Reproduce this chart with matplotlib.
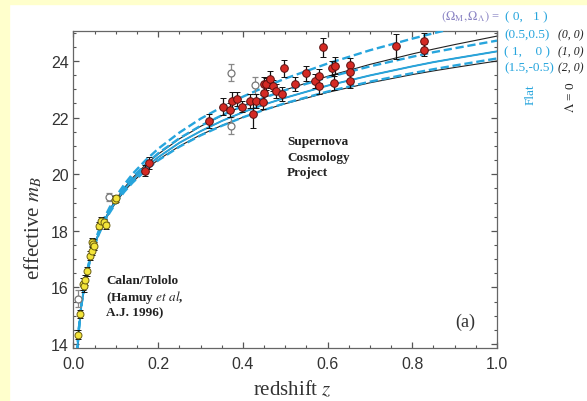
import numpy as np
import matplotlib
matplotlib.use("Agg")
import matplotlib.pyplot as plt
from matplotlib.patches import Rectangle

plt.rcParams['mathtext.fontset'] = 'stix'
plt.rcParams['font.family'] = ['Liberation Sans', 'DejaVu Sans']

# ---------------- model curves (effective m_B vs redshift), read/tabulated ----------------
z_grid = [0.0085, 0.01, 0.0125, 0.015, 0.0175, 0.02, 0.025, 0.03, 0.04, 0.05, 0.06, 0.07,
          0.085, 0.1, 0.12, 0.14, 0.17, 0.2, 0.25, 0.3, 0.35, 0.4, 0.45, 0.5, 0.6, 0.7,
          0.8, 0.85, 0.9, 1.0]
m_flat_0_1 = [13.67, 14.02, 14.51, 14.91, 15.25, 15.55, 16.04, 16.45, 17.10, 17.60, 18.02, 18.37,
              18.82, 19.21, 19.64, 20.02, 20.49, 20.90, 21.47, 21.96, 22.37, 22.74, 23.07, 23.38,
              23.91, 24.38, 24.79, 24.98, 25.16, 25.51]
m_flat_05_05 = [13.66, 14.01, 14.50, 14.90, 15.24, 15.53, 16.02, 16.43, 17.06, 17.56, 17.97, 18.32,
                18.75, 19.12, 19.54, 19.90, 20.35, 20.74, 21.27, 21.71, 22.08, 22.41, 22.70, 22.97,
                23.42, 23.81, 24.15, 24.31, 24.45, 24.72]
m_1_0 = [13.65, 14.01, 14.49, 14.89, 15.22, 15.52, 16.00, 16.40, 17.03, 17.52, 17.92, 18.26,
         18.69, 19.05, 19.46, 19.80, 20.24, 20.60, 21.11, 21.52, 21.88, 22.19, 22.46, 22.70,
         23.13, 23.49, 23.81, 23.96, 24.09, 24.34]
m_flat_15_m05 = [13.64, 14.00, 14.48, 14.88, 15.21, 15.50, 15.98, 16.38, 17.00, 17.48, 17.88, 18.21,
                 18.63, 18.98, 19.38, 19.71, 20.13, 20.49, 20.97, 21.37, 21.71, 22.01, 22.27, 22.51,
                 22.92, 23.27, 23.57, 23.71, 23.84, 24.09]
m_0_0 = [13.66, 14.01, 14.50, 14.90, 15.23, 15.53, 16.02, 16.42, 17.05, 17.55, 17.95, 18.30,
         18.74, 19.11, 19.52, 19.88, 20.33, 20.71, 21.25, 21.69, 22.07, 22.41, 22.71, 22.98,
         23.46, 23.88, 24.25, 24.42, 24.58, 24.88]
m_2_0 = [13.65, 14.00, 14.48, 14.88, 15.22, 15.51, 15.99, 16.39, 17.01, 17.49, 17.89, 18.23,
         18.65, 19.00, 19.40, 19.73, 20.15, 20.51, 20.99, 21.39, 21.72, 22.01, 22.27, 22.49,
         22.89, 23.23, 23.52, 23.65, 23.77, 24.00]

# ---------------- Calan/Tololo (yellow) ----------------
ct_z = [0.0118, 0.0165, 0.022, 0.024, 0.026, 0.033, 0.040, 0.043, 0.043, 0.046, 0.048,
        0.060, 0.065, 0.071, 0.076, 0.097, 0.100]
ct_m = [14.33, 15.06, 16.12, 16.04, 16.27, 16.57, 17.12, 17.28, 17.60, 17.55, 17.46,
        18.18, 18.36, 18.30, 18.20, 19.10, 19.15]
ct_e = [0.15, 0.15, 0.20, 0.20, 0.18, 0.15, 0.15, 0.15, 0.15, 0.15, 0.15,
        0.12, 0.12, 0.12, 0.12, 0.12, 0.12]

# ---------------- Supernova Cosmology Project (red) ----------------
scp_z = [0.170, 0.178, 0.319, 0.352, 0.370, 0.375, 0.386, 0.399, 0.416, 0.423, 0.430, 0.447,
         0.449, 0.449, 0.455, 0.463, 0.471, 0.479, 0.493, 0.496, 0.524, 0.548, 0.571, 0.579,
         0.579, 0.589, 0.610, 0.618, 0.615, 0.654, 0.654, 0.653, 0.762, 0.827, 0.827]
scp_m = [20.12, 20.40, 21.87, 22.39, 22.27, 22.59, 22.66, 22.39, 22.58, 22.13, 22.59, 22.54,
         22.86, 23.19, 23.19, 23.36, 23.13, 22.95, 22.83, 23.75, 23.19, 23.56, 23.28, 23.48,
         23.10, 24.48, 23.74, 23.83, 23.22, 23.86, 23.60, 23.30, 24.52, 24.70, 24.39]
scp_e = [0.20, 0.20, 0.25, 0.30, 0.25, 0.30, 0.25, 0.20, 0.25, 0.50, 0.25, 0.25,
         0.30, 0.25, 0.20, 0.30, 0.20, 0.25, 0.25, 0.30, 0.25, 0.25, 0.25, 0.25,
         0.25, 0.35, 0.25, 0.30, 0.25, 0.25, 0.25, 0.25, 0.45, 0.30, 0.20]

# ---------------- excluded points (open circles) ----------------
open_z = [0.0118, 0.085, 0.371, 0.371, 0.429]
open_m = [15.60, 19.20, 23.58, 21.71, 23.15]
open_e = [0.30, 0.15, 0.30, 0.30, 0.30]

x_ticks = [0.0, 0.2, 0.4, 0.6, 0.8, 1.0]
x_ticklabels = ['0.0', '0.2', '0.4', '0.6', '0.8', '1.0']
y_ticks = [14, 16, 18, 20, 22, 24]

CYAN = '#27a5dd'
W, H = 587, 402
fig = plt.figure(figsize=(W / 100, H / 100), dpi=100)
fig.patch.set_facecolor('white')
YEL = '#ffffcc'
fig.add_artist(Rectangle((0, 0), 9 / W, 1, transform=fig.transFigure, color=YEL, zorder=-10))
fig.add_artist(Rectangle((0, 1 - 5 / H), 1, 5 / H, transform=fig.transFigure, color=YEL, zorder=-10))

ax = fig.add_axes([73.5 / W, 1 - 349 / H, (497 - 73.5) / W, (349 - 32) / H])
ax.set_xlim(0, 1.0)
ax.set_ylim(13.86, 25.06)

# curves: black (Lambda = 0) underneath, cyan (flat) on top
ax.plot(z_grid, m_0_0, color='#222222', lw=0.8, zorder=2)
ax.plot(z_grid, m_1_0, color='#222222', lw=0.8, zorder=2)
ax.plot(z_grid, m_2_0, color='#222222', lw=0.8, zorder=2)
ax.plot(z_grid, m_1_0, color=CYAN, lw=1.4, zorder=3)
ax.plot(z_grid, m_flat_0_1, color=CYAN, lw=1.7, ls=(0, (3.5, 1.6)), zorder=3)
ax.plot(z_grid, m_flat_05_05, color=CYAN, lw=1.7, ls=(0, (3.5, 1.6)), zorder=3)
ax.plot(z_grid, m_flat_15_m05, color=CYAN, lw=1.7, ls=(0, (3.5, 1.6)), zorder=3)

# data
ax.errorbar(open_z, open_m, yerr=open_e, fmt='o', ms=5, mfc='white', mec='#777777',
            mew=0.9, ecolor='#888888', elinewidth=0.9, capsize=2.2, capthick=0.9, zorder=4)
ax.errorbar(ct_z, ct_m, yerr=ct_e, fmt='o', ms=5, mfc='#f3e43a', mec='#6b5e10',
            mew=0.7, ecolor='#111111', elinewidth=0.9, capsize=2.0, capthick=0.9, zorder=5)
ax.errorbar(scp_z, scp_m, yerr=scp_e, fmt='o', ms=5.5, mfc='#d42a24', mec='#5a1010',
            mew=0.7, ecolor='#111111', elinewidth=0.9, capsize=2.2, capthick=0.9, zorder=5)

# ticks / spines
ax.set_xticks(x_ticks)
ax.set_xticklabels(x_ticklabels)
ax.set_yticks(y_ticks)
ax.set_xticks(np.arange(0, 1.001, 0.05), minor=True)
ax.set_yticks(np.arange(14, 25.01, 0.5), minor=True)
ax.tick_params(which='both', direction='in', top=True, right=True, colors='#555555',
               labelcolor='#333333', labelsize=11.5)
ax.tick_params(which='major', length=4.5, width=0.9)
ax.tick_params(which='minor', length=2.5, width=0.8)
ax.tick_params(axis='x', pad=6)
for s in ax.spines.values():
    s.set_color('#666666')
    s.set_linewidth(0.9)

SERIF = ['Liberation Serif', 'DejaVu Serif']

def ftext(x, y, s, **kw):
    fig.text(x / W, 1 - y / H, s, **kw)

ftext(33, 228, r'effective $m_B$', family=SERIF, fontsize=15, rotation=90,
      ha='center', va='center', color='#333333')
ftext(292, 390, r'redshift $z$', family=SERIF, fontsize=15, ha='center', va='center',
      color='#333333')

ftext(106, 281, 'Calan/Tololo', family=SERIF, fontsize=9.5, weight='bold', va='center', color='#222222')
ftext(106, 297, r'(Hamuy $\mathbf{\mathit{et\ al}}$,', family=SERIF, fontsize=9.5, weight='bold',
      va='center', color='#222222')
ftext(106, 313, 'A.J. 1996)', family=SERIF, fontsize=9.5, weight='bold', va='center', color='#222222')

ftext(287, 142, 'Supernova', family=SERIF, fontsize=9.5, weight='bold', va='center', color='#222222')
ftext(287, 158, 'Cosmology', family=SERIF, fontsize=9.5, weight='bold', va='center', color='#222222')
ftext(287, 173, 'Project', family=SERIF, fontsize=9.5, weight='bold', va='center', color='#222222')

ftext(455, 322, '(a)', family=SERIF, fontsize=13, va='center', color='#333333')

PURPLE = '#8a84c4'
ftext(441, 17, r'$(\Omega_{\rm M},\Omega_\Lambda)$ =', family=SERIF, fontsize=9, va='center', color=PURPLE)
ftext(505, 17, '( 0,   1 )', family=SERIF, fontsize=9.5, va='center', color=CYAN)
ftext(504, 35, '(0.5,0.5)', family=SERIF, fontsize=9.5, va='center', color=CYAN)
ftext(504, 52, '( 1,    0 )', family=SERIF, fontsize=9.5, va='center', color=CYAN)
ftext(504, 68, '(1.5,-0.5)', family=SERIF, fontsize=9.5, va='center', color=CYAN)
ftext(558, 35, '(0, 0)', family=SERIF, fontsize=8.5, style='italic', va='center', color='#222222')
ftext(558, 52, '(1, 0)', family=SERIF, fontsize=8.5, style='italic', va='center', color='#222222')
ftext(558, 68, '(2, 0)', family=SERIF, fontsize=8.5, style='italic', va='center', color='#222222')
ftext(531, 95, 'Flat', family=SERIF, fontsize=9.5, rotation=90, ha='center', va='center', color=CYAN)
ftext(571, 97, r'$\Lambda$ = 0', family=SERIF, fontsize=9.5, rotation=90, ha='center', va='center',
      color='#222222')

fig.savefig('out.png', dpi=100, facecolor=fig.get_facecolor())
